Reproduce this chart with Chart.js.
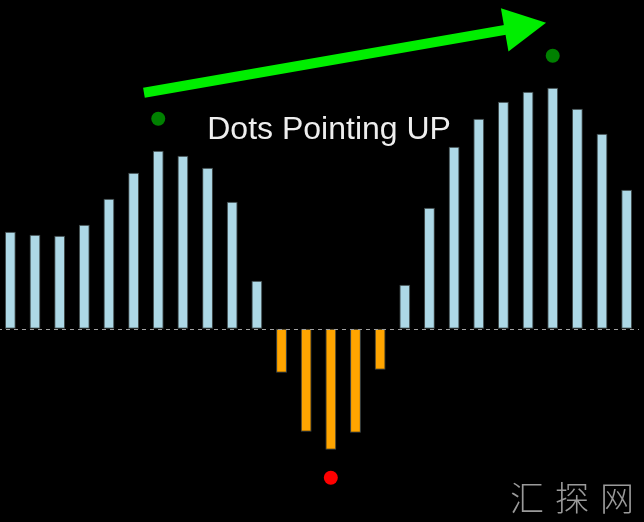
<!DOCTYPE html>
<html>
<head>
<meta charset="utf-8">
<script src="https://cdn.jsdelivr.net/npm/chart.js@4/dist/chart.umd.min.js"></script>
<style>
  html, body { margin: 0; padding: 0; background: #000; overflow: hidden; }
  #wrap { position: absolute; left: -2px; top: 0; width: 641px; height: 522px; }
</style>
</head>
<body>
<div id="wrap"><canvas id="osc"></canvas></div>
<script>
// histogram values, one per bar
const labels = ['1','2','3','4','5','6','7','8','9','10','11','12','13','14','15','16','17','18','19','20','21','22','23','24','25','26'];
const values = [0.97, 0.94, 0.93, 1.04, 1.30, 1.56, 1.78, 1.73, 1.61, 1.27, 0.48,
  -0.44, -1.03, -1.21, -1.04, -0.41,
  0.44, 1.21, 1.82, 2.10, 2.27, 2.37, 2.41, 2.20, 1.95, 1.39];

// signal dots (bar label, value)
const upDots = [{ x: '7', y: 2.10 }, { x: '23', y: 2.73 }];
const downDots = [{ x: '14', y: -1.49 }];

// arrow from / to in data units (x = bar index), and the caption
const arrowFrom = { x: 5.42, y: 2.36 };
const arrowTo = { x: 21.73, y: 3.06 };
const caption = { text: 'Dots Pointing UP', x: 12.93, y: 1.90 };
const watermark = '汇探网';

const yMin = -1.933, yMax = 3.287;

const overlay = {
  id: 'overlay',
  afterDatasetsDraw(chart) {
    const { ctx, scales: { y } } = chart;
    const y0 = Math.round(y.getPixelForValue(0));
    ctx.save();
    ctx.strokeStyle = '#a0a0a0';
    ctx.lineWidth = 1;
    ctx.setLineDash([4, 4]);
    ctx.beginPath();
    ctx.moveTo(0, y0 + 0.5);
    ctx.lineTo(chart.width, y0 + 0.5);
    ctx.stroke();
    ctx.restore();
  },
  afterDraw(chart) {
    const { ctx, scales: { x, y } } = chart;
    ctx.save();
    // arrow
    const x1 = x.getPixelForValue(arrowFrom.x), y1 = y.getPixelForValue(arrowFrom.y);
    const x2 = x.getPixelForValue(arrowTo.x), y2 = y.getPixelForValue(arrowTo.y);
    const ang = Math.atan2(y2 - y1, x2 - x1);
    const headLen = 42, headHalf = 22;
    const bx = x2 - headLen * Math.cos(ang), by = y2 - headLen * Math.sin(ang);
    ctx.strokeStyle = '#00ee00';
    ctx.fillStyle = '#00ee00';
    ctx.lineWidth = 10;
    ctx.beginPath();
    ctx.moveTo(x1, y1);
    ctx.lineTo(bx + 2 * Math.cos(ang), by + 2 * Math.sin(ang));
    ctx.stroke();
    ctx.beginPath();
    ctx.moveTo(x2, y2);
    ctx.lineTo(bx - headHalf * Math.sin(ang), by + headHalf * Math.cos(ang));
    ctx.lineTo(bx + headHalf * Math.sin(ang), by - headHalf * Math.cos(ang));
    ctx.closePath();
    ctx.fill();

    // caption
    ctx.fillStyle = '#eeeeee';
    ctx.font = '32px "Liberation Sans", Arial, sans-serif';
    ctx.textAlign = 'center';
    ctx.textBaseline = 'alphabetic';
    ctx.fillText(caption.text, x.getPixelForValue(caption.x), y.getPixelForValue(caption.y));

    // watermark
    ctx.fillStyle = '#9a9a9a';
    ctx.font = '300 34px "Noto Sans CJK SC", sans-serif';
    ctx.textAlign = 'left';
    ctx.textBaseline = 'middle';
    Array.from(watermark).forEach((c, i) => ctx.fillText(c, 512 + i * 45, 498));
    ctx.restore();
  }
};

new Chart(document.getElementById('osc'), {
  data: {
    labels: labels,
    datasets: [
      {
        type: 'scatter',
        data: upDots,
        pointRadius: 7,
        pointBackgroundColor: '#008000',
        pointBorderWidth: 0,
        order: 0,
      },
      {
        type: 'scatter',
        data: downDots,
        pointRadius: 7,
        pointBackgroundColor: '#ff0000',
        pointBorderWidth: 0,
        order: 0,
      },
      {
        type: 'bar',
        data: values,
        backgroundColor: values.map(v => v >= 0 ? '#add8e6' : '#ffa500'),
        borderColor: 'rgba(70,80,80,0.9)',
        borderWidth: 1,
        borderSkipped: false,
        categoryPercentage: 1,
        barPercentage: 0.44,
        order: 1,
      },
    ],
  },
  options: {
    responsive: true,
    maintainAspectRatio: false,
    animation: false,
    layout: { padding: 0, autoPadding: false },
    plugins: { legend: { display: false }, tooltip: { enabled: false } },
    scales: {
      x: { type: 'category', offset: true, display: false },
      y: { min: yMin, max: yMax, display: false },
    },
  },
  plugins: [overlay],
});
</script>
</body>
</html>
